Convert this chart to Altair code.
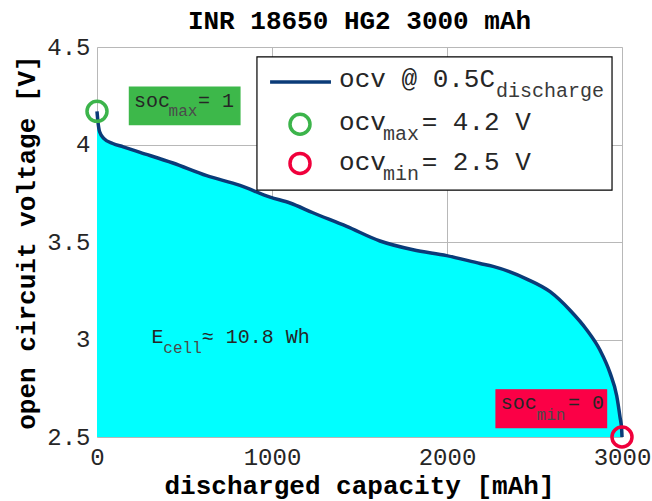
import altair as alt
import pandas as pd

FONT = "Liberation Mono"

# ---- data ----
capacity_mAh = [0, 5, 15, 40, 90, 150, 246, 434, 627, 817, 989, 1103, 1234, 1427, 1617,
                1806, 1998, 2189, 2263, 2456, 2589, 2703, 2798, 2874, 2931, 2970, 2989, 2998, 3000]
ocv_V = [4.17, 4.12, 4.065, 4.03, 4.005, 3.988, 3.96, 3.905, 3.84, 3.79, 3.73, 3.70, 3.65, 3.58, 3.505,
         3.46, 3.43, 3.39, 3.375, 3.31, 3.245, 3.15, 3.05, 2.946, 2.83, 2.71, 2.60, 2.54, 2.50]

x_ticks = [0, 1000, 2000, 3000]
y_ticks = [2.5, 3, 3.5, 4, 4.5]

# marker points (ocv max / min)
mark_cap = [0, 3000]
mark_ocv = [4.17, 2.5]
mark_col = ["#3cb44b", "#f0003c"]

# annotation boxes (data coords)
box_cap = [914, 185, 2280]
box_cap2 = [2943, 817, 2912]
box_ocv = [4.449, 4.295, 2.742]
box_ocv2 = [3.766, 4.102, 2.548]
box_fill = ["#ffffff", "#3db84a", "#fb0046"]
box_stroke = ["#000000", "#3db84a", "#fb0046"]

# legend sample line
leg_line_cap = [989]
leg_line_cap2 = [1337]
leg_line_ocv = [4.321]
# legend circles
leg_circ_cap = [1160, 1160]
leg_circ_ocv = [4.104, 3.903]

# legend texts (large)
leg_txt = ["ocv @ 0.5C", "ocv", "= 4.2 V", "ocv", "= 2.5 V"]
leg_txt_cap = [1383, 1383, 1855, 1383, 1855]
leg_txt_ocv = [4.294, 4.073, 4.073, 3.868, 3.868]
# legend subscripts
leg_sub = ["discharge", "max", "min"]
leg_sub_cap = [2280, 1634, 1634]
leg_sub_ocv = [4.242, 4.022, 3.817]

# in-plot annotation texts
ann_txt = ["soc", "= 1", "soc", "= 0", "E", "\u2248 10.8 Wh"]
ann_cap = [211, 577, 2307, 2691, 312, 598]
ann_ocv = [4.193, 4.193, 2.643, 2.643, 2.981, 2.981]
ann_sub = ["max", "min", "cell"]
ann_sub_cap = [409, 2512, 379]
ann_sub_ocv = [4.145, 2.587, 2.929]

# ---- frames ----
curve = pd.DataFrame({"cap": capacity_mAh, "ocv": ocv_V})
marks = pd.DataFrame({"cap": mark_cap, "ocv": mark_ocv, "col": mark_col})
boxes = pd.DataFrame({"cap": box_cap, "cap2": box_cap2, "ocv": box_ocv, "ocv2": box_ocv2,
                      "fill": box_fill, "stroke": box_stroke})
leg_line = pd.DataFrame({"cap": leg_line_cap, "cap2": leg_line_cap2, "ocv": leg_line_ocv})
leg_circ = pd.DataFrame({"cap": leg_circ_cap, "ocv": leg_circ_ocv, "col": mark_col})
leg_t = pd.DataFrame({"cap": leg_txt_cap, "ocv": leg_txt_ocv, "t": leg_txt})
leg_s = pd.DataFrame({"cap": leg_sub_cap, "ocv": leg_sub_ocv, "t": leg_sub})
ann_t = pd.DataFrame({"cap": ann_cap, "ocv": ann_ocv, "t": ann_txt})
ann_s = pd.DataFrame({"cap": ann_sub_cap, "ocv": ann_sub_ocv, "t": ann_sub})

NAVY = "#0b3b78"

xscale = alt.Scale(domain=[0, 3000], nice=False, zero=False)
yscale = alt.Scale(domain=[2.5, 4.5], nice=False, zero=False)

xaxis = alt.Axis(values=x_ticks, format="d", grid=True, gridColor="#b8b8b8", gridWidth=1,
                 ticks=False, tickSize=0, domain=False, labelFont=FONT, labelFontSize=24,
                 labelColor="#262626", labelPadding=8, labelFlush=False, labelOverlap=False,
                 titleFont=FONT, titleFontSize=26, titleFontWeight="bold", titleColor="#000000",
                 titleX=262, titleY=56, titleBaseline="alphabetic", titleAlign="center")
yaxis = alt.Axis(values=y_ticks, format="~g", grid=True, gridColor="#b8b8b8", gridWidth=1,
                 ticks=False, tickSize=0, domain=False, labelFont=FONT, labelFontSize=24,
                 labelColor="#262626", labelPadding=7, labelFlush=False, labelOverlap=False,
                 titleFont=FONT, titleFontSize=26, titleFontWeight="bold", titleColor="#000000",
                 titleX=-71, titleY=195, titleAngle=270, titleBaseline="middle", titleAlign="center")


def X():
    return alt.X("cap:Q", scale=xscale, axis=xaxis, title="discharged capacity [mAh]")


def Y():
    return alt.Y("ocv:Q", scale=yscale, axis=yaxis, title="open circuit voltage [V]")


area = alt.Chart(curve).mark_area(color="#00ffff", opacity=1, interpolate="monotone").encode(
    x=X(), y=Y(), y2=alt.datum(2.5))
line = alt.Chart(curve).mark_line(color=NAVY, strokeWidth=3.5, interpolate="monotone").encode(
    x=X(), y=Y())

rects = alt.Chart(boxes).mark_rect(strokeWidth=1.2, opacity=1).encode(
    x=X(), x2="cap2:Q", y=Y(), y2="ocv2:Q",
    fill=alt.Fill("fill:N", scale=None), stroke=alt.Stroke("stroke:N", scale=None))

pts = alt.Chart(marks).mark_point(shape="circle", filled=False, size=400, strokeWidth=3.5,
                                  opacity=1).encode(
    x=X(), y=Y(), stroke=alt.Stroke("col:N", scale=None))

lline = alt.Chart(leg_line).mark_rule(color=NAVY, strokeWidth=3.5).encode(
    x=X(), x2="cap2:Q", y=Y())
lcirc = alt.Chart(leg_circ).mark_point(shape="circle", filled=False, size=400, strokeWidth=3.5,
                                       opacity=1).encode(
    x=X(), y=Y(), stroke=alt.Stroke("col:N", scale=None))

lt = alt.Chart(leg_t).mark_text(align="left", baseline="alphabetic", font=FONT, fontSize=26,
                                color="#262626").encode(x=X(), y=Y(), text="t:N")
ls = alt.Chart(leg_s).mark_text(align="left", baseline="alphabetic", font=FONT, fontSize=20,
                                color="#3a3a3a").encode(x=X(), y=Y(), text="t:N")
at = alt.Chart(ann_t).mark_text(align="left", baseline="alphabetic", font=FONT, fontSize=20,
                                color="#262626").encode(x=X(), y=Y(), text="t:N")
asub = alt.Chart(ann_s).mark_text(align="left", baseline="alphabetic", font=FONT, fontSize=16,
                                  color="#4a4a4a").encode(x=X(), y=Y(), text="t:N")

chart = alt.layer(area, line, rects, at, asub, pts, lline, lcirc, lt, ls).properties(
    width=525, height=390,
    title=alt.TitleParams("INR 18650 HG2 3000 mAh", font=FONT, fontSize=26, fontWeight="bold",
                          color="#000000", anchor="middle", offset=1),
    autosize=alt.AutoSizeParams(type="none"),
    padding={"left": 97, "top": 47, "right": 30, "bottom": 64},
).configure_view(stroke="#000000", strokeWidth=1.3).configure(background="#ffffff")

chart.save("out.html", embed_options={"renderer": "svg", "actions": False})
